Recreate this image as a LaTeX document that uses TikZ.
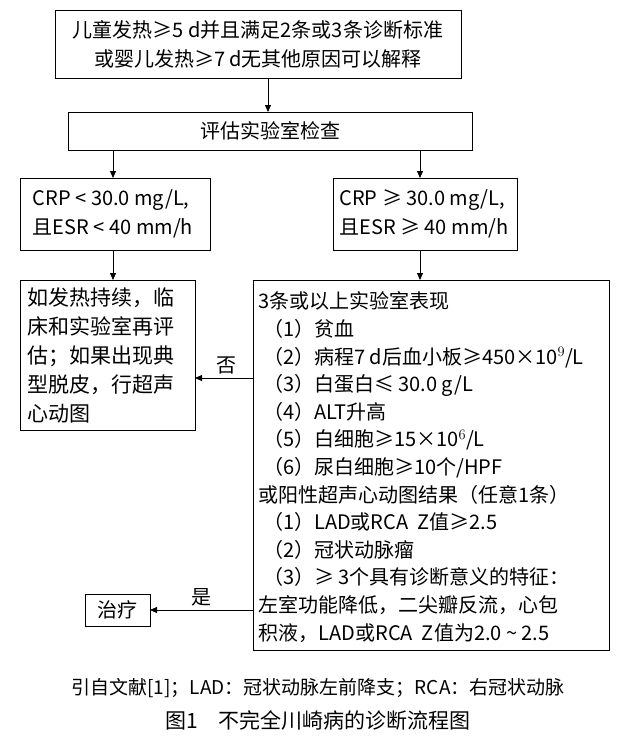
\documentclass[tikz,border=0pt]{standalone}
\usepackage{fontspec}
\setmainfont{Noto Sans CJK SC}
\usetikzlibrary{arrows.meta}
\begin{document}
\begin{tikzpicture}[x=1pt,y=-1pt,font=\fontsize{20}{29}\selectfont,
  bx/.style={draw,line width=0.8pt},
  ar/.style={-{Triangle[length=7pt,width=6pt]},line width=0.8pt},
  ln/.style={line width=0.8pt}]
\useasboundingbox (0,0) rectangle (637,747);
\draw[bx] (55,10) rectangle (461,78);
\node (t1) at (258,44) [align=center] {儿童发热≥5 d并且满足2条或3条诊断标准\\或婴儿发热≥7 d无其他原因可以解释};
\draw[bx] (68,112) rectangle (472,150);
\node (t2) at (270,131) {评估实验室检查};
\draw[bx] (20,178) rectangle (210,250);
\node (t3) at (113,214) [align=left] {CRP < 30.0 mg/L,\\且ESR < 40 mm/h};
\draw[bx] (333,178) rectangle (517,250);
\node (t4) at (424,214) [align=left] {CRP ≥ 30.0 mg/L,\\且ESR ≥ 40 mm/h};
\draw[bx] (20,280) rectangle (195,430);
\node (t5) at (24,355) [anchor=west,align=left,font=\fontsize{21}{29}\selectfont] {如发热持续，临\\床和实验室再评\\估；如果出现典\\型脱皮，行超声\\心动图};
\draw[bx] (253,280) rectangle (609,650);
\node (t6) at (255,467) [anchor=west,align=left,font=\fontsize{20}{27.6}\selectfont] {3条或以上实验室表现\\
\ （1）贫血\\
\ （2）病程7 d后血小板≥450×10$^9$/L\\
\ （3）白蛋白≤ 30.0 g/L\\
\ （4）ALT升高\\
\ （5）白细胞≥15×10$^6$/L\\
\ （6）尿白细胞≥10个/HPF\\
或阳性超声心动图结果（任意1条）\\
\ （1）LAD或RCA \ \textit{Z}值≥2.5\\
\ （2）冠状动脉瘤\\
\ （3）≥ 3个具有诊断意义的特征：\\
左室功能降低，二尖瓣反流，心包\\
积液，LAD或RCA \ \textit{Z}值为2.0 \textasciitilde\ 2.5};
\draw[bx] (85,594) rectangle (150,626);
\node (t7) at (117.5,610) {治疗};
\coordinate (a1) at (268,78); \coordinate (a2) at (268,112);
\draw[ar] (a1) -- (a2);
\coordinate (b1) at (113,150); \coordinate (b2) at (113,178);
\coordinate (c1) at (420,150); \coordinate (c2) at (420,178);
\draw[ar] (b1) -- (b2); \draw[ar] (c1) -- (c2);
\draw[ar] (113,250) -- (113,280);
\draw[ar] (420,250) -- (420,280);
\draw[ar] (253,378) -- node[above,pos=0.45] {否} (195,378);
\draw[ar] (253,610) -- node[above,pos=0.5] {是} (150,610);
\node (cap1) at (318,688) [font=\fontsize{19}{24}\selectfont] {引自文献[1]；LAD：冠状动脉左前降支；RCA：右冠状动脉};
\node (cap2) at (318,720) [font=\fontsize{21}{24}\selectfont] {图1\quad 不完全川崎病的诊断流程图};
\end{tikzpicture}
\end{document}
